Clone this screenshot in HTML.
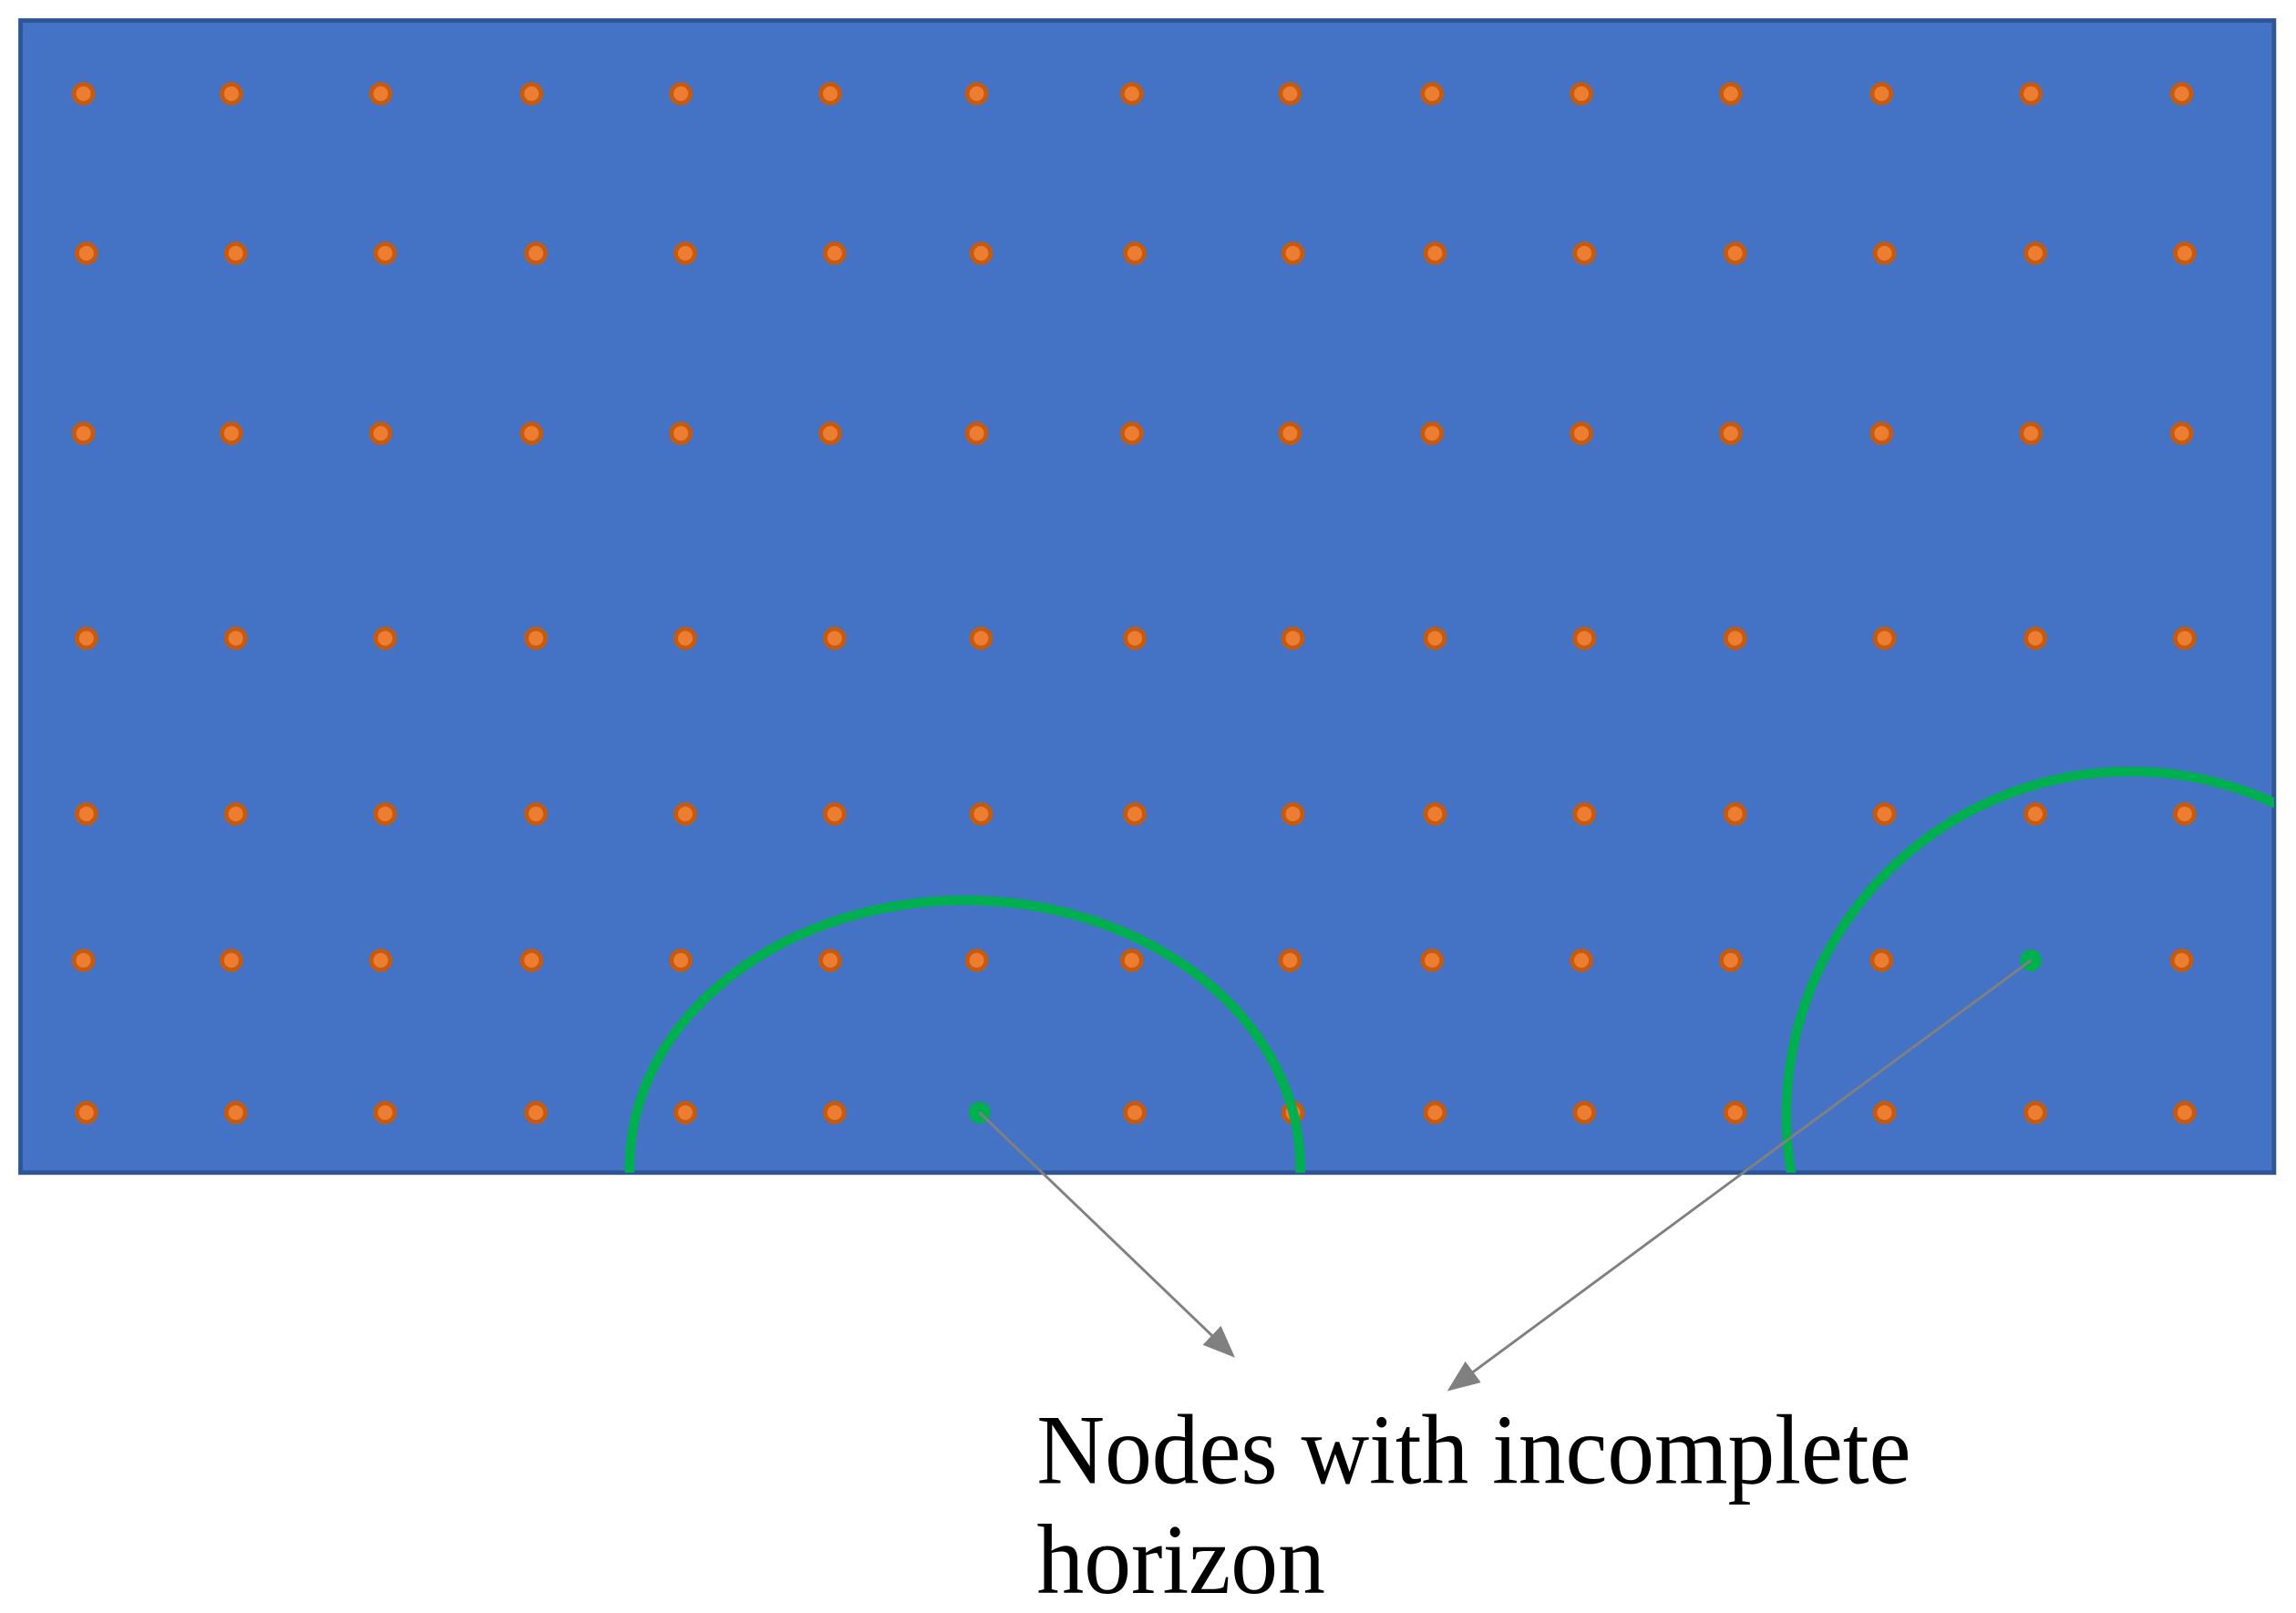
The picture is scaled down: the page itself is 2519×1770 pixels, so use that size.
<!DOCTYPE html>
<html><head><meta charset="utf-8"><style>html,body{margin:0;padding:0;background:#fff}svg{display:block}</style></head>
<body>
<svg width="2519" height="1770" viewBox="0 0 1568 1101.8" xmlns="http://www.w3.org/2000/svg">
<defs>
<clipPath id="c"><rect x="14" y="14" width="1539" height="787"/></clipPath>
<marker id="a" markerWidth="22" markerHeight="18" refX="20" refY="9" orient="auto" markerUnits="userSpaceOnUse" viewBox="0 0 22 18">
<path d="M0,0 L22,9 L0,18 z" fill="#808080"/></marker>
<circle id="d" r="6.5" fill="#ED7D31" stroke="#C55A11" stroke-width="3"/>
</defs>
<rect x="14" y="14" width="1539" height="787" fill="#4472C4" stroke="#2F5597" stroke-width="3"/>
<g>
<use href="#d" x="57" y="64"/><use href="#d" x="158" y="64"/><use href="#d" x="260" y="64"/><use href="#d" x="363" y="64"/><use href="#d" x="465" y="64"/><use href="#d" x="567" y="64"/><use href="#d" x="667" y="64"/><use href="#d" x="773" y="64"/><use href="#d" x="881" y="64"/><use href="#d" x="978" y="64"/><use href="#d" x="1080" y="64"/><use href="#d" x="1182" y="64"/><use href="#d" x="1285" y="64"/><use href="#d" x="1387" y="64"/><use href="#d" x="1490" y="64"/>
<use href="#d" x="59" y="173"/><use href="#d" x="161" y="173"/><use href="#d" x="263" y="173"/><use href="#d" x="366" y="173"/><use href="#d" x="468" y="173"/><use href="#d" x="570" y="173"/><use href="#d" x="670" y="173"/><use href="#d" x="775" y="173"/><use href="#d" x="883" y="173"/><use href="#d" x="980" y="173"/><use href="#d" x="1082" y="173"/><use href="#d" x="1185" y="173"/><use href="#d" x="1287" y="173"/><use href="#d" x="1390" y="173"/><use href="#d" x="1492" y="173"/>
<use href="#d" x="57" y="296"/><use href="#d" x="158" y="296"/><use href="#d" x="260" y="296"/><use href="#d" x="363" y="296"/><use href="#d" x="465" y="296"/><use href="#d" x="567" y="296"/><use href="#d" x="667" y="296"/><use href="#d" x="773" y="296"/><use href="#d" x="881" y="296"/><use href="#d" x="978" y="296"/><use href="#d" x="1080" y="296"/><use href="#d" x="1182" y="296"/><use href="#d" x="1285" y="296"/><use href="#d" x="1387" y="296"/><use href="#d" x="1490" y="296"/>
<use href="#d" x="59" y="436"/><use href="#d" x="161" y="436"/><use href="#d" x="263" y="436"/><use href="#d" x="366" y="436"/><use href="#d" x="468" y="436"/><use href="#d" x="570" y="436"/><use href="#d" x="670" y="436"/><use href="#d" x="775" y="436"/><use href="#d" x="883" y="436"/><use href="#d" x="980" y="436"/><use href="#d" x="1082" y="436"/><use href="#d" x="1185" y="436"/><use href="#d" x="1287" y="436"/><use href="#d" x="1390" y="436"/><use href="#d" x="1492" y="436"/>
<use href="#d" x="59" y="556"/><use href="#d" x="161" y="556"/><use href="#d" x="263" y="556"/><use href="#d" x="366" y="556"/><use href="#d" x="468" y="556"/><use href="#d" x="570" y="556"/><use href="#d" x="670" y="556"/><use href="#d" x="775" y="556"/><use href="#d" x="883" y="556"/><use href="#d" x="980" y="556"/><use href="#d" x="1082" y="556"/><use href="#d" x="1185" y="556"/><use href="#d" x="1287" y="556"/><use href="#d" x="1390" y="556"/><use href="#d" x="1492" y="556"/>
<use href="#d" x="57" y="656"/><use href="#d" x="158" y="656"/><use href="#d" x="260" y="656"/><use href="#d" x="363" y="656"/><use href="#d" x="465" y="656"/><use href="#d" x="567" y="656"/><use href="#d" x="667" y="656"/><use href="#d" x="773" y="656"/><use href="#d" x="881" y="656"/><use href="#d" x="978" y="656"/><use href="#d" x="1080" y="656"/><use href="#d" x="1182" y="656"/><use href="#d" x="1285" y="656"/><use href="#d" x="1490" y="656"/>
<use href="#d" x="59" y="760"/><use href="#d" x="161" y="760"/><use href="#d" x="263" y="760"/><use href="#d" x="366" y="760"/><use href="#d" x="468" y="760"/><use href="#d" x="570" y="760"/><use href="#d" x="775" y="760"/><use href="#d" x="883" y="760"/><use href="#d" x="980" y="760"/><use href="#d" x="1082" y="760"/><use href="#d" x="1185" y="760"/><use href="#d" x="1287" y="760"/><use href="#d" x="1390" y="760"/><use href="#d" x="1492" y="760"/>
</g>
<circle cx="669" cy="760" r="7.5" fill="#00B050"/>
<circle cx="1387" cy="656" r="7.5" fill="#00B050"/>
<g clip-path="url(#c)" fill="none" stroke="#00B050" stroke-width="6.5">
<path d="M430,803 L430,797 A229,182 0 0 1 888,797 L888,803"/>
<circle cx="1455" cy="762" r="235"/>
</g>
<line x1="669" y1="760" x2="842" y2="926" stroke="#808080" stroke-width="1.8" marker-end="url(#a)"/>
<line x1="1387" y1="656" x2="990" y2="949" stroke="#808080" stroke-width="1.8" marker-end="url(#a)"/>
<g font-family="'Liberation Serif', serif" font-size="68" fill="#000">
<text x="708" y="1013" textLength="597" lengthAdjust="spacingAndGlyphs">Nodes with incomplete</text>
<text x="708" y="1088" textLength="197" lengthAdjust="spacingAndGlyphs">horizon</text>
</g>
</svg>
</body></html>
